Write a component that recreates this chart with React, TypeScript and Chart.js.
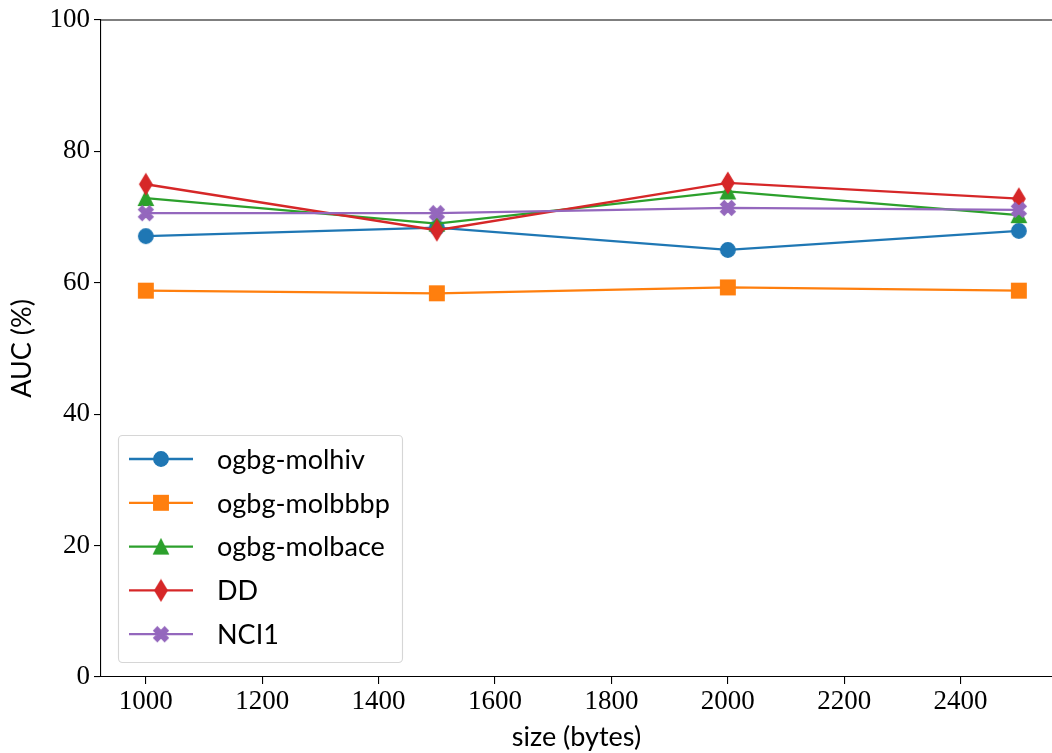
import React, { useEffect, useRef } from "react";
import { Chart, registerables } from "chart.js";

Chart.register(...registerables);

// ---- data ----
const sizes = [1000, 1500, 2000, 2500];
const seriesNames = ["ogbg-molhiv", "ogbg-molbbbp", "ogbg-molbace", "DD", "NCI1"];
const molhiv = [67.1, 68.4, 65.0, 67.9];
const molbbbp = [58.8, 58.4, 59.3, 58.8];
const molbace = [72.9, 69.0, 73.9, 70.3];
const dd = [75.0, 68.0, 75.2, 72.8];
const nci1 = [70.6, 70.6, 71.4, 71.1];
const xTicks = [1000, 1200, 1400, 1600, 1800, 2000, 2200, 2400];
const yTicks = [0, 20, 40, 60, 80, 100];
const xTitle = "size (bytes)";
const yTitle = "AUC (%)";

const seriesValues = [molhiv, molbbbp, molbace, dd, nci1];
const colors = ["#1f77b4", "#ff7f0e", "#2ca02c", "#d62728", "#9467bd"];
const shapes = ["circle", "square", "triangle", "thinDiamond", "xFilled"];

const SERIF = "'Liberation Serif', 'DejaVu Serif', serif";
const SANS = "Lato, 'Open Sans', sans-serif";
const FS = 27;
const LW = 2.3;

function makeMarker(shape: string, color: string): HTMLCanvasElement {
  const ms = 14.5;
  const ew = 1.39;
  let w = ms;
  let h = ms;
  if (shape === "thinDiamond") {
    w = ms * Math.SQRT2 * 0.6;
    h = ms * Math.SQRT2;
  }
  const W = Math.ceil(w + ew + 2);
  const H = Math.ceil(h + ew + 2);
  const c = document.createElement("canvas");
  c.width = W;
  c.height = H;
  const ctx = c.getContext("2d")!;
  ctx.translate(W / 2, H / 2);
  ctx.beginPath();
  if (shape === "circle") {
    ctx.arc(0, 0, ms / 2, 0, Math.PI * 2);
  } else if (shape === "square") {
    ctx.rect(-ms / 2, -ms / 2, ms, ms);
  } else if (shape === "triangle") {
    ctx.moveTo(0, -ms / 2);
    ctx.lineTo(ms / 2, ms / 2);
    ctx.lineTo(-ms / 2, ms / 2);
    ctx.closePath();
  } else if (shape === "thinDiamond") {
    ctx.moveTo(0, -h / 2);
    ctx.lineTo(w / 2, 0);
    ctx.lineTo(0, h / 2);
    ctx.lineTo(-w / 2, 0);
    ctx.closePath();
  } else {
    const pts = [
      [0.25, 0], [0.5, 0.25], [0.25, 0.5], [0, 0.25],
      [-0.25, 0.5], [-0.5, 0.25], [-0.25, 0], [-0.5, -0.25],
      [-0.25, -0.5], [0, -0.25], [0.25, -0.5], [0.5, -0.25],
    ];
    pts.forEach(([px, py], i) => {
      if (i === 0) ctx.moveTo(px * ms, py * ms);
      else ctx.lineTo(px * ms, py * ms);
    });
    ctx.closePath();
  }
  ctx.fillStyle = color;
  ctx.fill();
  ctx.lineWidth = ew;
  ctx.strokeStyle = color;
  ctx.lineJoin = "miter";
  ctx.stroke();
  return c;
}

export default function App() {
  const ref = useRef<HTMLCanvasElement | null>(null);

  useEffect(() => {
    const canvas = ref.current;
    if (!canvas) return;
    const markers = shapes.map((s, i) => makeMarker(s, colors[i]));

    const frame = {
      id: "frameAndLegend",
      afterDatasetsDraw(chart: any) {
        const { ctx, chartArea } = chart;
        ctx.save();
        // top spine
        ctx.strokeStyle = "#000";
        ctx.lineWidth = 1.1;
        ctx.beginPath();
        ctx.moveTo(chartArea.left, chartArea.top);
        ctx.lineTo(chartArea.right, chartArea.top);
        ctx.stroke();

        // legend
        const bx = chartArea.left + 17;
        const by = chartArea.top + 415;
        const bw = 284;
        const bh = 227;
        ctx.beginPath();
        ctx.roundRect(bx + 0.5, by + 0.5, bw, bh, 4);
        ctx.fillStyle = "rgba(255,255,255,0.8)";
        ctx.fill();
        ctx.strokeStyle = "rgba(204,204,204,0.8)";
        ctx.lineWidth = 1.1;
        ctx.stroke();

        ctx.font = `${FS}px ${SANS}`;
        ctx.textBaseline = "middle";
        ctx.textAlign = "left";
        seriesNames.forEach((name, i) => {
          const ry = by + 24 + i * 43.8;
          ctx.strokeStyle = colors[i];
          ctx.lineWidth = LW;
          ctx.beginPath();
          ctx.moveTo(bx + 11, ry);
          ctx.lineTo(bx + 75, ry);
          ctx.stroke();
          const m = markers[i];
          ctx.drawImage(m, bx + 43 - m.width / 2, ry - m.height / 2);
          ctx.fillStyle = "#000";
          ctx.fillText(name, bx + 99, ry + 1);
        });
        ctx.restore();
      },
    };

    const chart = new Chart(canvas, {
      type: "line",
      data: {
        datasets: seriesNames.map((name, i) => ({
          label: name,
          data: sizes.map((x, j) => ({ x, y: seriesValues[i][j] })),
          borderColor: colors[i],
          backgroundColor: colors[i],
          borderWidth: LW,
          pointStyle: markers[i] as any,
          pointRadius: 7,
          fill: false,
          tension: 0,
          order: seriesNames.length - i,
        })),
      },
      options: {
        responsive: false,
        animation: false,
        layout: { autoPadding: false, padding: { left: 0, right: 0, top: 20, bottom: 0 } },
        plugins: { legend: { display: false }, tooltip: { enabled: false } },
        scales: {
          x: {
            type: "linear",
            min: 923,
            max: 2557,
            afterBuildTicks: (s: any) => {
              s.ticks = xTicks.map((v) => ({ value: v }));
            },
            afterFit: (s: any) => {
              s.height = 76;
              s.paddingRight = 0;
              s.paddingLeft = 0;
            },
            grid: { drawOnChartArea: false, tickLength: 7, color: "#000", lineWidth: 1.1 },
            border: { color: "#000", width: 1.1 },
            ticks: {
              font: { family: SERIF, size: FS },
              color: "#000",
              padding: 2,
              maxRotation: 0,
              autoSkip: false,
              callback: (v: any) => String(v),
            },
            title: {
              display: true,
              text: xTitle,
              font: { family: SANS, size: FS },
              color: "#000",
              padding: { top: 0, bottom: 0 },
            },
          },
          y: {
            type: "linear",
            min: 0,
            max: 100,
            afterBuildTicks: (s: any) => {
              s.ticks = yTicks.map((v) => ({ value: v }));
            },
            afterFit: (s: any) => {
              s.width = 101;
              s.paddingTop = 0;
              s.paddingBottom = 0;
            },
            grid: { drawOnChartArea: false, tickLength: 7, color: "#000", lineWidth: 1.1 },
            border: { color: "#000", width: 1.1 },
            ticks: {
              font: { family: SERIF, size: FS },
              color: "#000",
              padding: 4,
              callback: (v: any) => String(v),
            },
            title: {
              display: true,
              text: yTitle,
              font: { family: SANS, size: FS },
              color: "#000",
              padding: { top: 6, bottom: 0 },
            },
          },
        },
      },
      plugins: [frame],
    });
    return () => chart.destroy();
  }, []);

  return (
    <div style={{ position: "absolute", left: 0, top: 0, width: 1052, height: 753, background: "#fff" }}>
      <canvas ref={ref} width={1052} height={753} style={{ width: 1052, height: 753, display: "block" }} />
    </div>
  );
}
